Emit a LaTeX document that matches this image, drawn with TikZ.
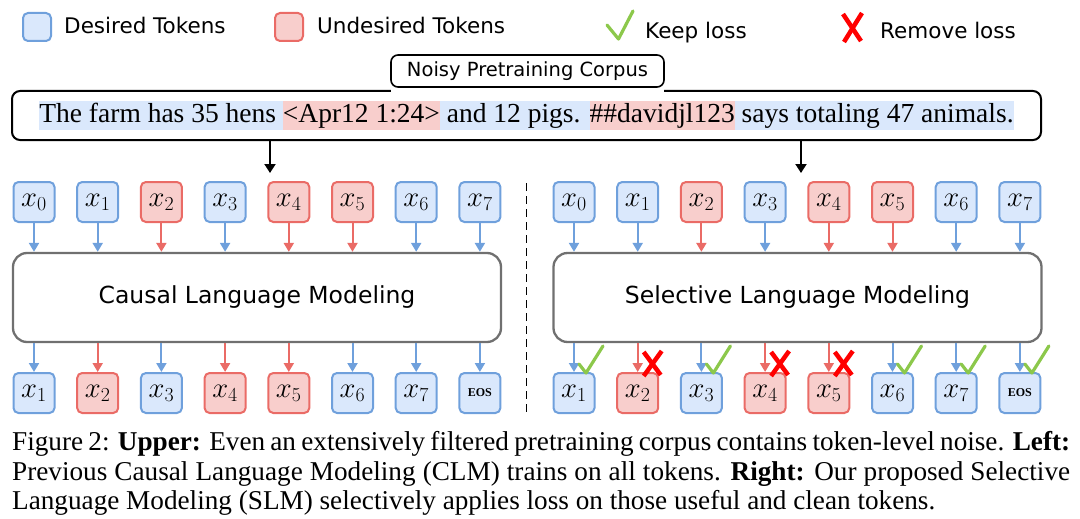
\documentclass[tikz,border=0pt]{standalone}
\usepackage{graphicx}
\usepackage{fontspec}
\setmainfont{Liberation Serif}
\newfontfamily\sansfont{DejaVu Sans}
\usetikzlibrary{arrows.meta}

\definecolor{goodfill}{HTML}{DAE8FC}
\definecolor{gooddraw}{HTML}{6FA0DC}
\definecolor{badfill}{HTML}{F8CECC}
\definecolor{baddraw}{HTML}{EA6B66}
\definecolor{lmgray}{HTML}{707070}
\definecolor{keepgreen}{HTML}{8CC84B}
\definecolor{dropred}{HTML}{FF0000}

\newcommand{\hlgood}[1]{{\setlength{\fboxsep}{0pt}\colorbox{goodfill}{\rule[-7.5pt]{0pt}{29pt}#1}}}
\newcommand{\hlbad}[1]{{\setlength{\fboxsep}{0pt}\colorbox{badfill}{\rule[-7.5pt]{0pt}{29pt}#1}}}
\newcommand{\tok}[1]{\scalebox{1.15}{$x_{#1}$}}

\tikzset{
	good/.style={draw=gooddraw, fill=goodfill, line width=2pt, rounded corners=5pt,
		minimum width=41pt, minimum height=40pt, inner sep=0pt, font=\fontsize{24}{24}\selectfont},
	bad/.style={good, draw=baddraw, fill=badfill},
	lmbox/.style={draw=lmgray, fill=white, line width=2.3pt, rounded corners=14pt,
		minimum width=488pt, minimum height=89pt, font=\sansfont\fontsize{23.5}{28}\selectfont},
	goodarr/.style={color=gooddraw, line width=2pt, -{Triangle[length=9pt,width=10pt]}},
	badarr/.style={goodarr, color=baddraw},
	feed/.style={line width=2pt, -{Triangle[length=9pt,width=11pt]}},
	keep/.style={draw=keepgreen, line width=3.2pt, line cap=round, line join=round},
	drop/.style={draw=dropred, line width=4.5pt},
	legend/.style={anchor=base west, inner sep=0pt, font=\sansfont\fontsize{21.5}{25}\selectfont},
	eos/.style={font=\fontsize{12}{14}\selectfont\bfseries}
}

\begin{document}
\begin{tikzpicture}[x=1pt, y=-1pt]
	\useasboundingbox (0,0) rectangle (1080,519);

	% legend
	\node[good, minimum width=28pt, minimum height=28pt] (keygood) at(37, 27){};
	\node[legend] (keygoodtxt) at(64, 33.5){Desired Tokens};
	\node[bad, minimum width=28pt, minimum height=28pt] (keybad) at(289, 27){};
	\node[legend] (keybadtxt) at(317, 33.5){Undesired Tokens};
	\draw[keep] (607, 25) -- (618.5, 39) -- (633, 11);
	\node[legend] (keeptxt) at(645, 39){Keep loss};
	\draw[drop] (843, 14) -- (861, 41);
	\draw[drop] (862, 13) -- (844, 42);
	\node[legend] (droptxt) at(880, 38.5){Remove loss};

	% corpus
	\node[draw, fill=white, line width=2pt, rounded corners=8pt, minimum width=1029pt, minimum height=49pt,
		inner sep=0pt, font=\fontsize{27.5}{31}\selectfont] (corpus) at(526.5, 115.5){%
		\hlgood{The farm has 35 hens }\hlbad{<Apr12 1:24>}\hlgood{ and 12 pigs. }\hlbad{\#\#davidjl123}\hlgood{ says totaling 47 animals.}};
	\fill[white] (391, 88.5) rectangle (664, 94);
	\node[draw, fill=white, line width=1.6pt, rounded corners=7pt, minimum width=273pt, minimum height=32pt,
		inner sep=0pt, font=\sansfont\fontsize{19.5}{23}\selectfont] (tag) at(527.5, 71){Noisy Pretraining Corpus};
	\coordinate (hitl) at(270, 173);
	\coordinate (hitr) at(801, 173);
	\draw[feed] (corpus.south -| hitl) -- (hitl);
	\draw[feed] (corpus.south -| hitr) -- (hitr);

	% left: causal
	\node[lmbox] (clm) at(257, 297.5){Causal Language Modeling};
	\node[good] (cin0) at(34, 202){\tok{0}};
	\node[good] (cin1) at(97.7, 202){\tok{1}};
	\node[bad] (cin2) at(161.4, 202){\tok{2}};
	\node[good] (cin3) at(225.1, 202){\tok{3}};
	\node[bad] (cin4) at(288.8, 202){\tok{4}};
	\node[bad] (cin5) at(352.5, 202){\tok{5}};
	\node[good] (cin6) at(416.2, 202){\tok{6}};
	\node[good] (cin7) at(479.9, 202){\tok{7}};
	\node[good] (cout1) at(34, 393){\tok{1}};
	\node[bad] (cout2) at(97.7, 393){\tok{2}};
	\node[good] (cout3) at(161.4, 393){\tok{3}};
	\node[bad] (cout4) at(225.1, 393){\tok{4}};
	\node[bad] (cout5) at(288.8, 393){\tok{5}};
	\node[good] (cout6) at(352.5, 393){\tok{6}};
	\node[good] (cout7) at(416.2, 393){\tok{7}};
	\node[good, eos] (cout8) at(479.9, 393){EOS};
	\draw[goodarr] (cin0) -- (cin0 |- clm.north);
	\draw[goodarr] (cin1) -- (cin1 |- clm.north);
	\draw[badarr] (cin2) -- (cin2 |- clm.north);
	\draw[goodarr] (cin3) -- (cin3 |- clm.north);
	\draw[badarr] (cin4) -- (cin4 |- clm.north);
	\draw[badarr] (cin5) -- (cin5 |- clm.north);
	\draw[goodarr] (cin6) -- (cin6 |- clm.north);
	\draw[goodarr] (cin7) -- (cin7 |- clm.north);
	\draw[goodarr] (clm.south -| cout1) -- (cout1);
	\draw[badarr] (clm.south -| cout2) -- (cout2);
	\draw[goodarr] (clm.south -| cout3) -- (cout3);
	\draw[badarr] (clm.south -| cout4) -- (cout4);
	\draw[badarr] (clm.south -| cout5) -- (cout5);
	\draw[goodarr] (clm.south -| cout6) -- (cout6);
	\draw[goodarr] (clm.south -| cout7) -- (cout7);
	\draw[goodarr] (clm.south -| cout8) -- (cout8);

	\coordinate (cuttop) at(526.5, 183);
	\coordinate (cutbot) at(526.5, 412);
	\draw[line width=1.5pt, dash pattern=on 8pt off 5pt] (cuttop) -- (cutbot);

	% right: selective
	\node[lmbox] (slm) at(797.5, 297.5){Selective Language Modeling};
	\node[good] (sin0) at(574, 202){\tok{0}};
	\node[good] (sin1) at(637.7, 202){\tok{1}};
	\node[bad] (sin2) at(701.4, 202){\tok{2}};
	\node[good] (sin3) at(765.1, 202){\tok{3}};
	\node[bad] (sin4) at(828.8, 202){\tok{4}};
	\node[bad] (sin5) at(892.5, 202){\tok{5}};
	\node[good] (sin6) at(956.2, 202){\tok{6}};
	\node[good] (sin7) at(1019.9, 202){\tok{7}};
	\node[good] (sout1) at(574, 393){\tok{1}};
	\node[bad] (sout2) at(637.7, 393){\tok{2}};
	\node[good] (sout3) at(701.4, 393){\tok{3}};
	\node[bad] (sout4) at(765.1, 393){\tok{4}};
	\node[bad] (sout5) at(828.8, 393){\tok{5}};
	\node[good] (sout6) at(892.5, 393){\tok{6}};
	\node[good] (sout7) at(956.2, 393){\tok{7}};
	\node[good, eos] (sout8) at(1019.9, 393){EOS};
	\draw[goodarr] (sin0) -- (sin0 |- slm.north);
	\draw[goodarr] (sin1) -- (sin1 |- slm.north);
	\draw[badarr] (sin2) -- (sin2 |- slm.north);
	\draw[goodarr] (sin3) -- (sin3 |- slm.north);
	\draw[badarr] (sin4) -- (sin4 |- slm.north);
	\draw[badarr] (sin5) -- (sin5 |- slm.north);
	\draw[goodarr] (sin6) -- (sin6 |- slm.north);
	\draw[goodarr] (sin7) -- (sin7 |- slm.north);
	\draw[goodarr] (slm.south -| sout1) -- (sout1);
	\draw[badarr] (slm.south -| sout2) -- (sout2);
	\draw[goodarr] (slm.south -| sout3) -- (sout3);
	\draw[badarr] (slm.south -| sout4) -- (sout4);
	\draw[badarr] (slm.south -| sout5) -- (sout5);
	\draw[goodarr] (slm.south -| sout6) -- (sout6);
	\draw[goodarr] (slm.south -| sout7) -- (sout7);
	\draw[goodarr] (slm.south -| sout8) -- (sout8);

	% loss marks
	\draw[keep] ([shift={(5,-8)}]sout1.north) -- ([shift={(12,1)}]sout1.north) -- ([shift={(29,-26)}]sout1.north);
	\draw[keep] ([shift={(5,-8)}]sout3.north) -- ([shift={(12,1)}]sout3.north) -- ([shift={(29,-26)}]sout3.north);
	\draw[keep] ([shift={(5,-8)}]sout6.north) -- ([shift={(12,1)}]sout6.north) -- ([shift={(29,-26)}]sout6.north);
	\draw[keep] ([shift={(5,-8)}]sout7.north) -- ([shift={(12,1)}]sout7.north) -- ([shift={(29,-26)}]sout7.north);
	\draw[keep] ([shift={(5,-8)}]sout8.north) -- ([shift={(12,1)}]sout8.north) -- ([shift={(29,-26)}]sout8.north);
	\draw[drop] ([shift={(6,-20)}]sout2.north) -- ([shift={(23,3)}]sout2.north);
	\draw[drop] ([shift={(24,-21)}]sout2.north) -- ([shift={(6,4)}]sout2.north);
	\draw[drop] ([shift={(6,-20)}]sout4.north) -- ([shift={(23,3)}]sout4.north);
	\draw[drop] ([shift={(24,-21)}]sout4.north) -- ([shift={(6,4)}]sout4.north);
	\draw[drop] ([shift={(6,-20)}]sout5.north) -- ([shift={(23,3)}]sout5.north);
	\draw[drop] ([shift={(24,-21)}]sout5.north) -- ([shift={(6,4)}]sout5.north);

	% caption
	\node[anchor=north west, text width=1058pt, align=justify, inner sep=0pt,
		font=\fontsize{27.2}{29.7}\selectfont] (caption) at(12, 431){Figure 2: \textbf{Upper:} Even an extensively filtered pretraining corpus contains token-level noise. \textbf{Left:}\linebreak Previous Causal Language Modeling (CLM) trains on all tokens. \textbf{Right:} Our proposed Selective\linebreak Language Modeling (SLM) selectively applies loss on those useful and clean tokens.};
\end{tikzpicture}
\end{document}
